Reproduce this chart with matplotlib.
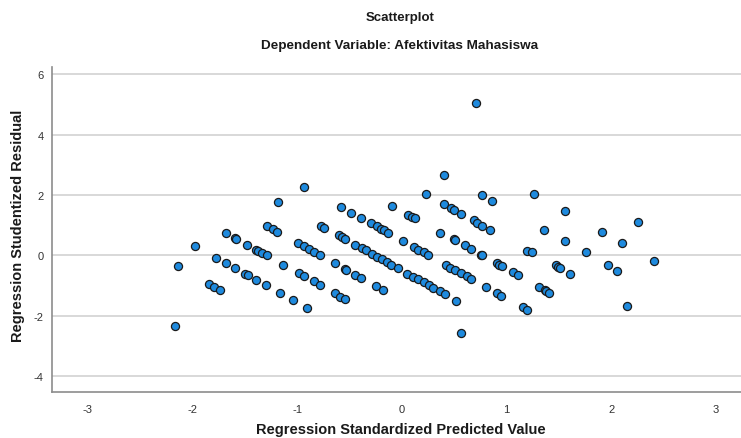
import matplotlib.pyplot as plt

# Regression standardized predicted value (x) and studentized residual (y)
pred = [-2.17, -2.14, -1.97, -1.68, -1.77, -1.68, -1.84, -1.79, -1.74, -1.59,
        -1.58, -1.59, -1.48, -1.50, -1.47, -1.39, -1.37, -1.33, -1.29, -1.39,
        -1.30, -1.29, -1.23, -1.19, -1.18, -1.13, -1.16,
        -0.93, -1.04, -0.90, -0.99, -0.93, -0.89, -0.84, -0.78, -0.98, -0.93,
        -0.84, -0.78, -0.77, -0.74, -0.58, -0.48, -0.39, -0.29, -0.24, -0.20,
        -0.17, -0.13, -0.09, 0.06, -0.60, -0.57, -0.54, -0.45, -0.38, -0.34,
        -0.28, -0.24, -0.19, -0.14, -0.10, -0.04, 0.01, 0.05, -0.64, -0.54,
        -0.53, -0.45, -0.39, -0.64, -0.59, -0.54, -0.25, -0.18,
        0.40, 0.23, 0.77, 0.86, 0.10, 0.13, 0.40, 0.47, 0.50, 0.57,
        0.69, 0.72, 0.77, 0.84, 0.37, 0.12, 0.16, 0.21, 0.25, 0.50,
        0.51, 0.60, 0.66, 0.76, 0.77, 0.91, 0.93, 0.96, 1.06, 1.11,
        1.20, 0.11, 0.16, 0.21, 0.26, 0.30, 0.37, 0.41, 0.52, 0.42,
        0.46, 0.51, 0.57, 0.62, 0.66, 0.80, 0.91, 0.95, 1.16, 1.20,
        0.57, 0.71,
        1.26, 1.56, 2.26, 1.36, 1.91, 1.56, 2.10, 1.24, 1.76, 2.41,
        1.47, 1.49, 1.51, 1.61, 1.97, 2.06, 1.31, 1.37, 1.38, 1.41, 2.15]
resid = [-2.32, -0.36, 0.32, 0.74, -0.07, -0.24, -0.94, -1.04, -1.13, 0.57,
         0.54, -0.42, 0.36, -0.60, -0.65, 0.18, 0.15, 0.07, 0.00, -0.80,
         -0.98, 0.97, 0.87, 0.79, 1.76, -0.31, -1.25,
         2.27, -1.47, -1.75, 0.42, 0.31, 0.21, 0.12, 0.02, -0.59, -0.67,
         -0.86, -0.97, 0.99, 0.91, 1.61, 1.40, 1.24, 1.06, 0.96, 0.89,
         0.83, 0.75, 1.64, 1.34, 0.67, 0.61, 0.54, 0.36, 0.24, 0.17,
         0.05, -0.05, -0.13, -0.23, -0.31, -0.42, 0.47, -0.60, -0.24, -0.46,
         -0.48, -0.63, -0.74, -1.24, -1.36, -1.44, -1.02, -1.14,
         2.68, 2.05, 1.99, 1.81, 1.29, 1.24, 1.69, 1.58, 1.51, 1.38,
         1.16, 1.08, 0.99, 0.85, 0.76, 0.28, 0.19, 0.10, 0.01, 0.54,
         0.51, 0.34, 0.21, 0.03, 0.01, -0.24, -0.30, -0.36, -0.56, -0.64,
         0.15, -0.71, -0.78, -0.88, -0.98, -1.07, -1.19, -1.27, -1.50, -0.30,
         -0.40, -0.49, -0.59, -0.67, -0.77, -1.05, -1.23, -1.34, -1.72, -1.81,
         -2.57, 5.05,
         2.04, 1.46, 1.11, 0.85, 0.79, 0.47, 0.42, 0.10, 0.10, -0.18,
         -0.33, -0.39, -0.43, -0.61, -0.31, -0.50, -1.04, -1.14, -1.17, -1.23, -1.67]

xticks = [-3, -2, -1, 0, 1, 2, 3]
yticks = [-4, -2, 0, 2, 4, 6]

plt.rcParams['font.family'] = ['Liberation Sans', 'DejaVu Sans']
plt.rcParams['axes.unicode_minus'] = False

fig = plt.figure(figsize=(7.41, 4.39), dpi=100)
ax = fig.add_axes([52/741, 46/439, 689/741, 325/439])

ax.scatter(pred, resid, s=34, c='#1e8ade', edgecolors='#1a1a1a', linewidths=0.9, zorder=3)

ax.set_xlim(-3.34, 3.24)
ax.set_ylim(-4.52, 6.24)
ax.set_xticks(xticks)
ax.set_yticks(yticks)
ax.tick_params(length=0, labelsize=8, labelcolor='#333333', pad=9)
ax.tick_params(axis='y', pad=6)

ax.grid(axis='y', color='#d6d6d6', linewidth=1.3)
ax.set_axisbelow(True)
for side in ['top', 'right']:
    ax.spines[side].set_visible(False)
for side in ['left', 'bottom']:
    ax.spines[side].set_color('#8c8c8c')
    ax.spines[side].set_linewidth(1.2)

fig.text(400/741, 1 - 18/439, 'Scatterplot', ha='center', va='center',
         fontsize=9.5, fontweight='bold', color='#1a1a1a')
fig.text(400/741, 1 - 46/439, 'Dependent Variable: Afektivitas Mahasiswa', ha='center', va='center',
         fontsize=9.7, fontweight='bold', color='#1a1a1a')
fig.text(401/741, 1 - 430/439, 'Regression Standardized Predicted Value', ha='center', va='center',
         fontsize=10.5, fontweight='bold', color='#1a1a1a')
fig.text(18/741, 1 - 226/439, 'Regression Studentized Residual', ha='center', va='center',
         rotation=90, fontsize=10.5, fontweight='bold', color='#1a1a1a')

fig.savefig('out.png', dpi=100)
